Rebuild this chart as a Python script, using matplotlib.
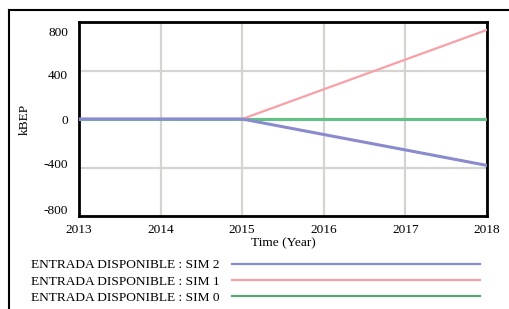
import matplotlib
matplotlib.use("Agg")
import matplotlib.pyplot as plt
from matplotlib.lines import Line2D
from matplotlib.transforms import ScaledTranslation

plt.rcParams['font.family'] = ['Liberation Serif', 'DejaVu Serif']

years = [2013, 2014, 2015, 2016, 2017, 2018]
sim2 = [0, 0, 0, -128, -255, -383]
sim1 = [0, 0, 0, 245, 490, 735]
sim0 = [0, 0, 0, 0, 0, 0]
yticks = [-800, -400, 0, 400, 800]
xticks = [2013, 2014, 2015, 2016, 2017, 2018]
labels = ["ENTRADA DISPONIBLE : SIM 2", "ENTRADA DISPONIBLE : SIM 1",
          "ENTRADA DISPONIBLE : SIM 0"]

c_blue = '#8a8ace'
c_pink = '#f7a0a8'
c_green = '#62c286'
c_green_leg = '#5aa57a'
FS = 9.6

W, H = 510, 309
fig = plt.figure(figsize=(W / 100, H / 100), dpi=100)
ax = fig.add_axes([79 / W, 1 - 216 / H, (487 - 79) / W, (216 - 22) / H])

ax.plot(years, sim0, color=c_green, lw=2.2, zorder=3)
ax.plot(years, sim1, color=c_pink, lw=1.6, zorder=4)
ax.plot(years, sim2, color=c_blue, lw=2.2, zorder=5)

ax.set_xlim(2013, 2018)
ax.set_ylim(-800, 800)
ax.set_xticks(xticks)
ax.set_yticks(yticks)
ax.set_xticklabels([str(x) for x in xticks])
ax.set_yticklabels([str(y) for y in yticks])
ax.tick_params(length=0, labelsize=FS, colors='black')
ax.tick_params(axis='y', pad=8)
ax.tick_params(axis='x', pad=6)
ax.grid(True, color='#d4d4d0', lw=1.6)
ax.set_axisbelow(True)
for s in ax.spines.values():
    s.set_linewidth(2.0)
    s.set_color('black')

# Vensim-style compressed y labels
offsets = {-800: 6, -400: 4, 0: 0, 400: -4, 800: -9}
for lab, val in zip(ax.get_yticklabels(), yticks):
    lab.set_transform(lab.get_transform() +
                      ScaledTranslation(0, offsets[val] / 100, fig.dpi_scale_trans))

ax.set_ylabel("kBEP", fontsize=FS, labelpad=9)
ax.set_xlabel("Time (Year)", fontsize=FS, labelpad=1)

handles = [Line2D([], [], color=c_blue, lw=1.6),
           Line2D([], [], color=c_pink, lw=1.6),
           Line2D([], [], color=c_green_leg, lw=1.6)]
fig.legend(handles, labels, loc='upper left',
           bbox_to_anchor=(31 / W, 1 - 259 / H), frameon=False,
           markerfirst=False, handlelength=18.6, handletextpad=0.9,
           labelspacing=0.3, borderpad=0, borderaxespad=0, fontsize=FS)

# outer frame (top and left)
fig.add_artist(Line2D([9.5 / W, 1], [1 - 9.5 / H, 1 - 9.5 / H],
                      transform=fig.transFigure, color='black', lw=1.5))
fig.add_artist(Line2D([9.5 / W, 9.5 / W], [0, 1 - 9.5 / H],
                      transform=fig.transFigure, color='black', lw=1.5))

fig.savefig("out.png", dpi=100)
